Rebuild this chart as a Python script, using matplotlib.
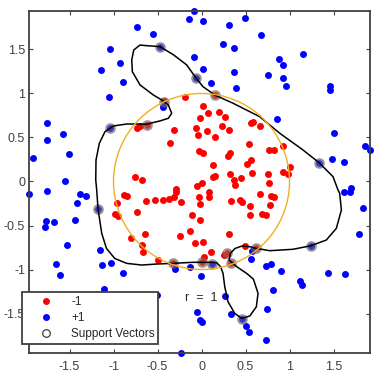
import matplotlib
matplotlib.use('Agg')
from matplotlib import pyplot
from matplotlib.patches import Circle
from matplotlib.lines import Line2D

pyplot.rcParams['font.family'] = ['Liberation Sans', 'DejaVu Sans']
pyplot.rcParams['axes.unicode_minus'] = False

# class -1 (inside the circle)
red_x = [-0.1875, -0.736, -0.70, -0.623, -0.316, -0.361, -0.76, -0.68, -0.293, -0.423,
         0.15, 0.017, 0.074, 0.199, 0.267, -0.02, 0.233, 0.3125, -0.066, -0.04,
         0.059, 0.153, 0.566, 0.585, 0.661, 0.54, -0.028, 0.017, 0.301, 0.32,
         0.767, 0.82, 0.922, 0.5625, 0.514, 0.131, 1.009, 0.574, 0.32, 0.756,
         0.922, 0.98, 0.131, 0.153, 0.366, 0.449, 0.767, 0.377, 0.009, -0.051,
         0.085, -0.028, 0.085, 0.661, 0.786, 0.824, 0.339, 0.434, 0.46, 0.555,
         0.775, -0.02, 0.547, 0.684, 0.73, -0.11, -0.02, 0.3125, -0.078, 0.017,
         0.491, 0.104, 0.028, 0.002, 0.293, 0.256, 0.331, 0.62,
         -0.85, -0.88, -0.964, -0.983, -0.949, -0.736, -0.63, -0.532, -0.441, -0.366,
         -0.316, -0.29, -0.233, -0.134, -0.244, -0.642, -0.805, -0.68, -0.668, -0.494,
         -0.327]
red_y = [0.964, 0.611, 0.634, 0.642, 0.589, 0.4375, 0.055, 0.017, -0.089, 0.918,
         0.983, 0.858, 0.782, 0.793, 0.733, 0.722, 0.634, 0.589, 0.611, 0.532,
         0.577, 0.509, 0.661, 0.68, 0.634, 0.43, 0.35, 0.327, 0.293, 0.327,
         0.361, 0.361, 0.407, 0.248, 0.202, 0.191, 0.168, 0.1, 0.089, 0.089,
         0.111, 0.089, 0.055, 0.066, 0.02, 0.043, -0.014, -0.04, -0.014, -0.048,
         -0.116, -0.172, -0.18, -0.142, -0.161, -0.18, -0.218, -0.21, -0.23, -0.275,
         -0.267, -0.256, -0.377, -0.369, -0.381, -0.385, -0.4375, -0.593, -0.703, -0.684,
         -0.729, -0.797, -0.861, -0.911, -0.809, -0.835, -0.93, -0.76,
         -0.165, -0.153, -0.248, -0.369, -0.392, -0.343, -0.218, -0.21, -0.21, -0.203,
         -0.172, -0.116, -0.229, -0.559, -0.616, -0.6, -0.642, -0.722, -0.797, -0.892,
         -0.93]

# class +1 (outside the circle)
blue_x = [-0.085, -0.145, -0.736, -0.551, -0.472, -1.043, -0.93, -1.145, -0.892, -0.09,
          -1.055, -0.066, -0.441, -1.76, -1.76, -1.577, -1.506, -1.918, -1.551, -1.76,
          -1.043, 0.017, 0.3125, 0.494, 0.672, 0.24, 0.369, 1.15, 0.877, 0.926,
          0.017, 0.369, 0.756, 0.922, 0.108, 0.392, 0.96, 1.456, 1.456, 0.858,
          1.506, 1.858, 1.911, 1.479, 1.619, 1.335, 1.699, 1.62, 1.684, 1.831,
          1.786, 1.24, 0.57, 0.566, 0.116, 0.73, 0.786, 0.9, 1.4375, 1.627,
          -0.01, 1.123, 1.138, 0.816, 0.264, -0.048, 0.744, 0.331, 0.457, -0.013,
          0.006, 0.509, 0.54, 0.73, -1.957, -1.38, -1.3125, -1.415, -1.176, -1.767,
          -1.676, -1.778, -1.439, -1.532, -1.153, -1.653, -1.608, -1.131, -1.028, -0.892,
          -1.108, -0.30, -0.13, -0.509, -0.233]
blue_y = [1.937, 1.846, 1.759, 1.676, 1.532, 1.506, 1.35, 1.267, 1.134, 1.418,
          0.96, 1.18, 0.85, 0.668, 0.475, 0.543, 0.316, 0.27, 0.0, -0.11,
          0.605, 1.827, 1.778, 1.861, 1.668, 1.566, 1.521, 1.452, 1.396, 1.324,
          1.278, 1.248, 1.214, 1.18, 1.123, 1.066, 1.089, 1.089, 1.044, 0.714,
          0.555, 0.407, 0.361, 0.259, 0.225, 0.214, -0.07, -0.116, -0.123, -0.297,
          -0.593, -0.729, -0.786, -0.881, -0.94, -0.956, -0.934, -1.013, -1.036, -1.048,
          -1.07, -1.134, -1.176, -1.23, -1.301, -1.48, -1.445, -1.502, -1.559, -1.574,
          -1.597, -1.638, -1.706, -1.797, -0.142, -0.142, -0.165, -0.24, -0.3125, -0.445,
          -0.46, -0.513, -0.434, -0.718, -0.778, -0.934, -1.0625, -0.949, -0.922, -1.036,
          -1.218, -0.998, -0.975, -1.293, -1.945]

sv_x = [-0.472, -0.066, -0.43, -0.623, -1.043, 0.15, 1.335, -1.176, -0.327, 0.002,
        0.116, 0.293, 0.331, 0.62, 1.24, 0.457]
sv_y = [1.532, 1.18, 0.9, 0.642, 0.605, 0.983, 0.214, -0.3125, -0.93, -0.911,
        -0.94, -0.809, -0.93, -0.76, -0.729, -1.559]

# decision boundary
boundary_x = [-0.472, -0.623, -0.70, -0.77, -0.793, -0.786, -0.699, -0.548, -0.452, -0.377,
              -0.339, -0.377, -0.472, -0.585, -0.623, -0.699, -0.85, -1.002, -1.097, -1.161,
              -1.199, -1.202, -1.191, -1.176, -1.134, -1.08, -0.985, -0.85, -0.68, -0.509,
              -0.327, -0.097, 0.093, 0.172, 0.218, 0.244, 0.264, 0.301, 0.377, 0.457,
              0.548, 0.623, 0.642, 0.59, 0.514, 0.40, 0.3125, 0.33, 0.38, 0.46,
              0.551, 0.619, 0.775, 1.04, 1.241, 1.418, 1.532, 1.589, 1.57, 1.551,
              1.494, 1.335, 1.153, 0.889, 0.661, 0.358, 0.15, 0.017, -0.066, -0.168,
              -0.32, -0.472]
boundary_y = [1.532, 1.543, 1.55, 1.494, 1.381, 1.248, 1.097, 0.983, 0.926, 0.869,
              0.775, 0.718, 0.688, 0.661, 0.65, 0.653, 0.653, 0.631, 0.566, 0.434,
              0.244, 0.017, -0.097, -0.3125, -0.589, -0.761, -0.875, -0.93, -0.949, -0.9375,
              -0.93, -0.918, -0.918, -0.922, -0.97, -1.043, -1.195, -1.366, -1.498, -1.555,
              -1.528, -1.423, -1.27, -1.11, -1.045, -0.968, -0.892, -0.8125, -0.761, -0.733,
              -0.741, -0.759, -0.786, -0.77, -0.73, -0.665, -0.532, -0.324, -0.134, -0.097,
              0.055, 0.214, 0.358, 0.548, 0.736, 0.889, 0.983, 1.077, 1.18, 1.324,
              1.44, 1.532]

radius = 1.0

fig = pyplot.figure(figsize=(3.86, 3.80), dpi=100)
ax = fig.add_axes([0.0759, 0.0718, 0.8819, 0.8993])

ax.plot(red_x, red_y, 'o', color=(1, 0, 0), markersize=5, markeredgewidth=0, clip_on=False, zorder=2)
ax.plot(blue_x, blue_y, 'o', color=(0, 0, 1), markersize=5, markeredgewidth=0, clip_on=False, zorder=2)
ax.scatter(sv_x, sv_y, s=44, facecolors=(0.5, 0.5, 0.5, 0.45), edgecolors=(0.35, 0.35, 0.35, 0.6),
           linewidths=1, zorder=3)
ax.plot(boundary_x, boundary_y, color='black', linewidth=1.1, zorder=4)
ax.add_patch(Circle((0, 0), radius, fill=False, edgecolor='#EDB120', linewidth=1.0, zorder=5))
ax.text(-0.193, -1.324, 'r  =  1', fontsize=9, color='#262626', ha='left', va='center', zorder=6)

all_x = red_x + blue_x
all_y = red_y + blue_y
ax.set_xlim(min(all_x), max(all_x))
ax.set_ylim(min(all_y), max(all_y))
ticks = [-1.5, -1, -0.5, 0, 0.5, 1, 1.5]
ax.set_xticks(ticks)
ax.set_yticks(ticks)
ax.set_xticklabels(['-1.5', '-1', '-0.5', '0', '0.5', '1', '1.5'])
ax.set_yticklabels(['-1.5', '-1', '-0.5', '0', '0.5', '1', '1.5'])
ax.tick_params(direction='in', length=3, width=0.8, top=True, right=True,
               color='#404040', labelcolor='#404040', labelsize=9)
ax.tick_params(axis='x', pad=6)
ax.tick_params(axis='y', pad=3)
for s in ax.spines.values():
    s.set_color('#404040')
    s.set_linewidth(1.3)

handles = [
    Line2D([], [], marker='o', linestyle='none', color=(1, 0, 0), markersize=5, markeredgewidth=0),
    Line2D([], [], marker='o', linestyle='none', color=(0, 0, 1), markersize=5, markeredgewidth=0),
    Line2D([], [], marker='o', linestyle='none', markerfacecolor='white', markeredgecolor='#404040',
           markersize=5.5, markeredgewidth=0.9),
]
leg = fig.legend(handles, ['-1', '+1', 'Support Vectors'], loc='lower left',
                 bbox_to_anchor=(0.0562, 0.0947), bbox_transform=fig.transFigure,
                 fontsize=8.5, frameon=True, fancybox=False, framealpha=1,
                 borderpad=0.3, labelspacing=0.36, handlelength=3.6, handletextpad=0.3,
                 borderaxespad=0)
leg.get_frame().set_edgecolor('#404040')
leg.get_frame().set_linewidth(1.3)
for t in leg.get_texts():
    t.set_color('#262626')

fig.savefig('out.png', dpi=100)
